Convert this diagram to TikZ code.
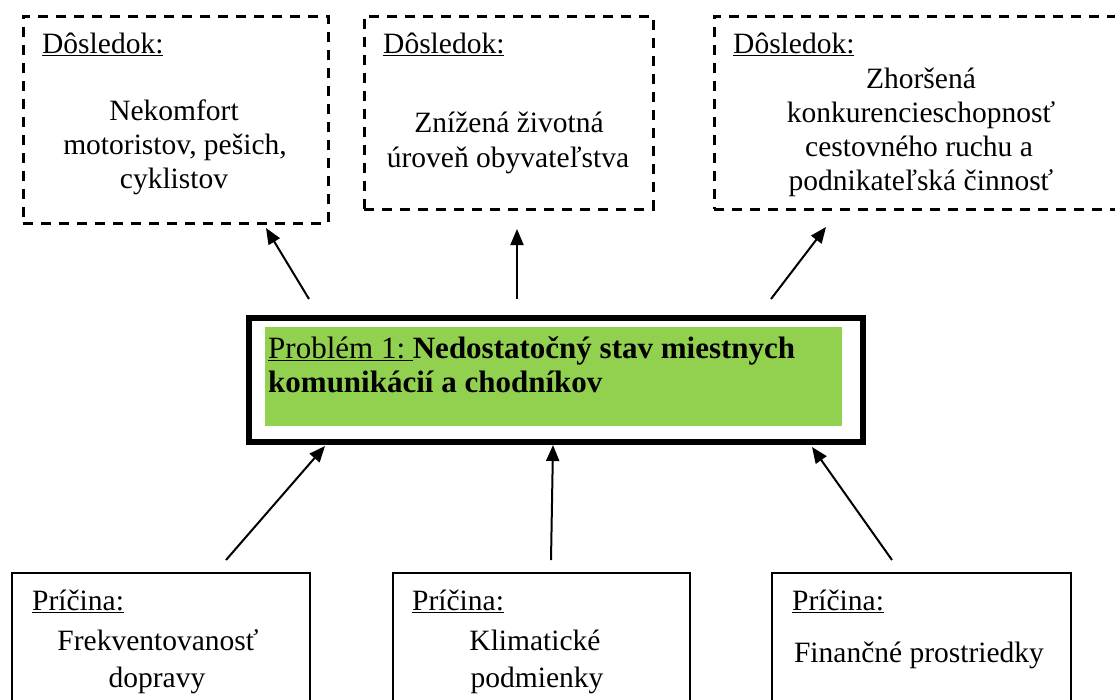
\documentclass[tikz,border=0pt]{standalone}
\usepackage{fontspec}
\setmainfont{Liberation Serif}
\usetikzlibrary{arrows.meta}
\definecolor{probgreen}{HTML}{92D050}
\begin{document}
\begin{tikzpicture}[x=1pt,y=-1pt,
  conbox/.style={draw, line width=2.6pt, dash pattern=on 10pt off 8pt, inner sep=0pt, anchor=north west},
  causebox/.style={draw, line width=1.5pt, inner sep=0pt, anchor=north west},
  probframe/.style={draw, line width=6pt, inner sep=0pt, anchor=north west},
  probfill/.style={fill=probgreen, inner sep=0pt, anchor=north west},
  head/.style={anchor=base west, inner sep=0pt, font=\fontsize{29.5}{34}\selectfont},
  body/.style={anchor=base, inner sep=0pt, font=\fontsize{29.5}{34}\selectfont},
  probtext/.style={anchor=base west, inner sep=0pt, font=\fontsize{31}{36}\selectfont},
  arr/.style={line width=2pt, -{Triangle[length=16pt,width=13pt]}}]
\useasboundingbox (0,0) rectangle (1115,699);
\begin{scope}
\clip (0,0) rectangle (1115,699);
% consequence boxes
\node[conbox, minimum width=305pt, minimum height=207pt] (d1) at (22,15) {};
\node[conbox, minimum width=289pt, minimum height=193pt] (d2) at (363,15) {};
\node[conbox, minimum width=420pt, minimum height=193pt] (d3) at (713,15) {};
% cause boxes
\node[causebox, minimum width=298pt, minimum height=140pt] (c1) at (11,572) {};
\node[causebox, minimum width=297pt, minimum height=140pt] (c2) at (392,572) {};
\node[causebox, minimum width=299pt, minimum height=140pt] (c3) at (771,572) {};
\end{scope}
% problem box
\node[probframe, minimum width=614pt, minimum height=124pt] (prob) at (246,315) {};
\node[probfill, minimum width=577pt, minimum height=99pt] (probbg) at (265,327) {};
\node[probtext] (pt1) at (268,358) {\underline{Problém 1:\ }\textbf{Nedostatočný stav miestnych}};
\node[probtext] (pt2) at (268,392) {\textbf{komunikácií a chodníkov}};
% consequence texts
\node[head] (d1h) at (42,53) {\underline{Dôsledok:}};
\node[body] (d1a) at (174,120) {Nekomfort};
\node[body] (d1b) at (175,154) {motoristov, pešich,};
\node[body] (d1c) at (174,188) {cyklistov};
\node[head] (d2h) at (383,53) {\underline{Dôsledok:}};
\node[body] (d2a) at (509,132) {Znížená životná};
\node[body] (d2b) at (508,167) {úroveň obyvateľstva};
\node[head] (d3h) at (733,53) {\underline{Dôsledok:}};
\node[body] (d3a) at (921,88) {Zhoršená};
\node[body] (d3b) at (921,122) {konkurencieschopnosť};
\node[body] (d3c) at (919,156) {cestovného ruchu a};
\node[body] (d3d) at (921,190) {podnikateľská činnosť};
% cause texts
\node[head] (c1h) at (32,610) {\underline{Príčina:}};
\node[body] (c1a) at (158,650) {Frekventovanosť};
\node[body] (c1b) at (157,687) {dopravy};
\node[head] (c2h) at (412,610) {\underline{Príčina:}};
\node[body] (c2a) at (535,650) {Klimatické};
\node[body] (c2b) at (537,687) {podmienky};
\node[head] (c3h) at (792,610) {\underline{Príčina:}};
\node[body] (c3a) at (919,662) {Finančné prostriedky};
% arrow ends
\coordinate (u1s) at (309,299); \coordinate (u1e) at (266,228);
\coordinate (u2s) at (517,299); \coordinate (u2e) at (517,229);
\coordinate (u3s) at (771,299); \coordinate (u3e) at (826,227);
\coordinate (b1s) at (226,560); \coordinate (b1e) at (325,446);
\coordinate (b2s) at (551,560); \coordinate (b2e) at (553,445);
\coordinate (b3s) at (892,560); \coordinate (b3e) at (812,447);
\draw[arr] (u1s) -- (u1e);
\draw[arr] (u2s) -- (u2e);
\draw[arr] (u3s) -- (u3e);
\draw[arr] (b1s) -- (b1e);
\draw[arr] (b2s) -- (b2e);
\draw[arr] (b3s) -- (b3e);
\end{tikzpicture}
\end{document}
